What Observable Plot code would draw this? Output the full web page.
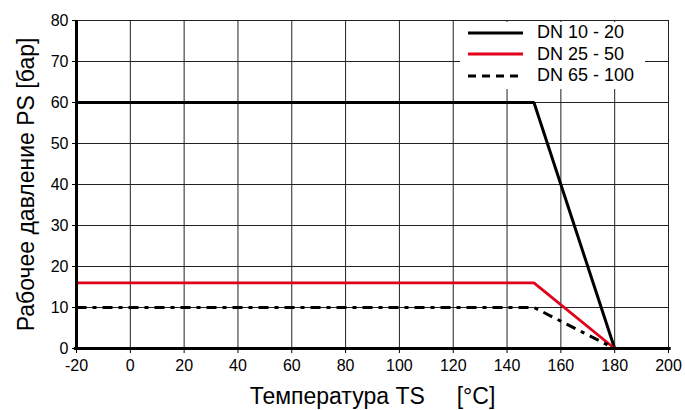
<!DOCTYPE html>
<html>
<head>
<meta charset="utf-8">
<script src="https://cdn.jsdelivr.net/npm/d3@7"></script>
<script src="https://cdn.jsdelivr.net/npm/@observablehq/plot@0.6"></script>
<style>
  body { margin: 0; background: #fff; font-family: "Liberation Sans", Arial, sans-serif; }
  #wrap { position: relative; width: 685px; height: 410px; }
  #legend { position: absolute; background: #fff; font-size: 18px; color: #000; }
  #legend .row { display: flex; align-items: center; height: 21.5px; }
  #legend svg { margin-right: 14px; }
</style>
</head>
<body>
<div id="wrap"></div>
<script>
const temps = [-20, 150, 180];
const seriesNames = ["DN 10 - 20", "DN 25 - 50", "DN 65 - 100"];
const dn10_20 = [60, 60, 0];
const dn25_50 = [16, 16, 0];
const dn65_100 = [10, 10, 0];
const xTicks = [-20, 0, 20, 40, 60, 80, 100, 120, 140, 160, 180, 200];
const yTicks = [0, 10, 20, 30, 40, 50, 60, 70, 80];
const xLabel = "Температура TS\u00a0\u00a0\u00a0\u00a0\u00a0[°C]";
const yLabel = "Рабочее давление PS [бар]";

const styles = [
  {stroke: "#000", strokeWidth: 3, dash: null},
  {stroke: "#e2001a", strokeWidth: 2.8, dash: null},
  {stroke: "#000", strokeWidth: 3, dash: "10,6,4,6"}
];
const allSeries = [dn10_20, dn25_50, dn65_100];
const rows = [];
allSeries.forEach((vals, i) => temps.forEach((t, j) => rows.push({series: seriesNames[i], t, p: vals[j]})));

const W = 685, H = 410, mL = 76, mR = 17, mT = 20, mB = 62;

const chart = Plot.plot({
  width: W, height: H,
  marginLeft: mL, marginRight: mR, marginTop: mT, marginBottom: mB,
  style: {fontFamily: "'Liberation Sans', Arial, sans-serif", fontSize: "16px", color: "#000", background: "#fff"},
  x: {domain: [-20, 200]},
  y: {domain: [0, 80]},
  marks: [
    Plot.gridX(xTicks, {stroke: "#222", strokeOpacity: 1, strokeWidth: 1}),
    Plot.gridY(yTicks, {stroke: "#222", strokeOpacity: 1, strokeWidth: 1}),
    ...seriesNames.map((name, i) => Plot.line(rows.filter(r => r.series === name), {
      x: "t", y: "p", stroke: styles[i].stroke, strokeWidth: styles[i].strokeWidth,
      strokeDasharray: styles[i].dash, strokeLinejoin: "miter", strokeLinecap: "butt"
    })),
    Plot.ruleX([-20], {y1: -0.5, y2: 80, stroke: "#000", strokeWidth: 3}),
    Plot.ruleY([0], {x1: -20.8, x2: 201, stroke: "#000", strokeWidth: 3}),
    Plot.axisX(xTicks, {tickSize: 5, tickPadding: 6, fontSize: 16, label: null, tickFormat: d => String(d)}),
    Plot.axisY(yTicks, {tickSize: 4, tickPadding: 4, fontSize: 16, label: null, tickFormat: d => String(d)}),
    Plot.text([xLabel], {frameAnchor: "bottom", dy: 55, fontSize: 23, textAnchor: "middle", lineAnchor: "bottom"}),
    Plot.text([yLabel], {frameAnchor: "left", dx: -50, rotate: -90, fontSize: 23, textAnchor: "middle", lineAnchor: "middle"})
  ]
});
const wrap = document.getElementById("wrap");
wrap.appendChild(chart);

// legend
const leg = document.createElement("div");
leg.id = "legend";
leg.style.left = "460px";
leg.style.top = "22px";
leg.style.width = "177px";
leg.style.padding = "0 0 2px 8px";
seriesNames.forEach((name, i) => {
  const row = document.createElement("div");
  row.className = "row";
  const s = styles[i];
  row.innerHTML = `<svg width="55" height="6"><line x1="0" y1="3" x2="55" y2="3" stroke="${s.stroke}" stroke-width="${s.strokeWidth}" ${s.dash ? 'stroke-dasharray="8,6"' : ''}/></svg><span>${name}</span>`;
  leg.appendChild(row);
});
wrap.appendChild(leg);
</script>
</body>
</html>
